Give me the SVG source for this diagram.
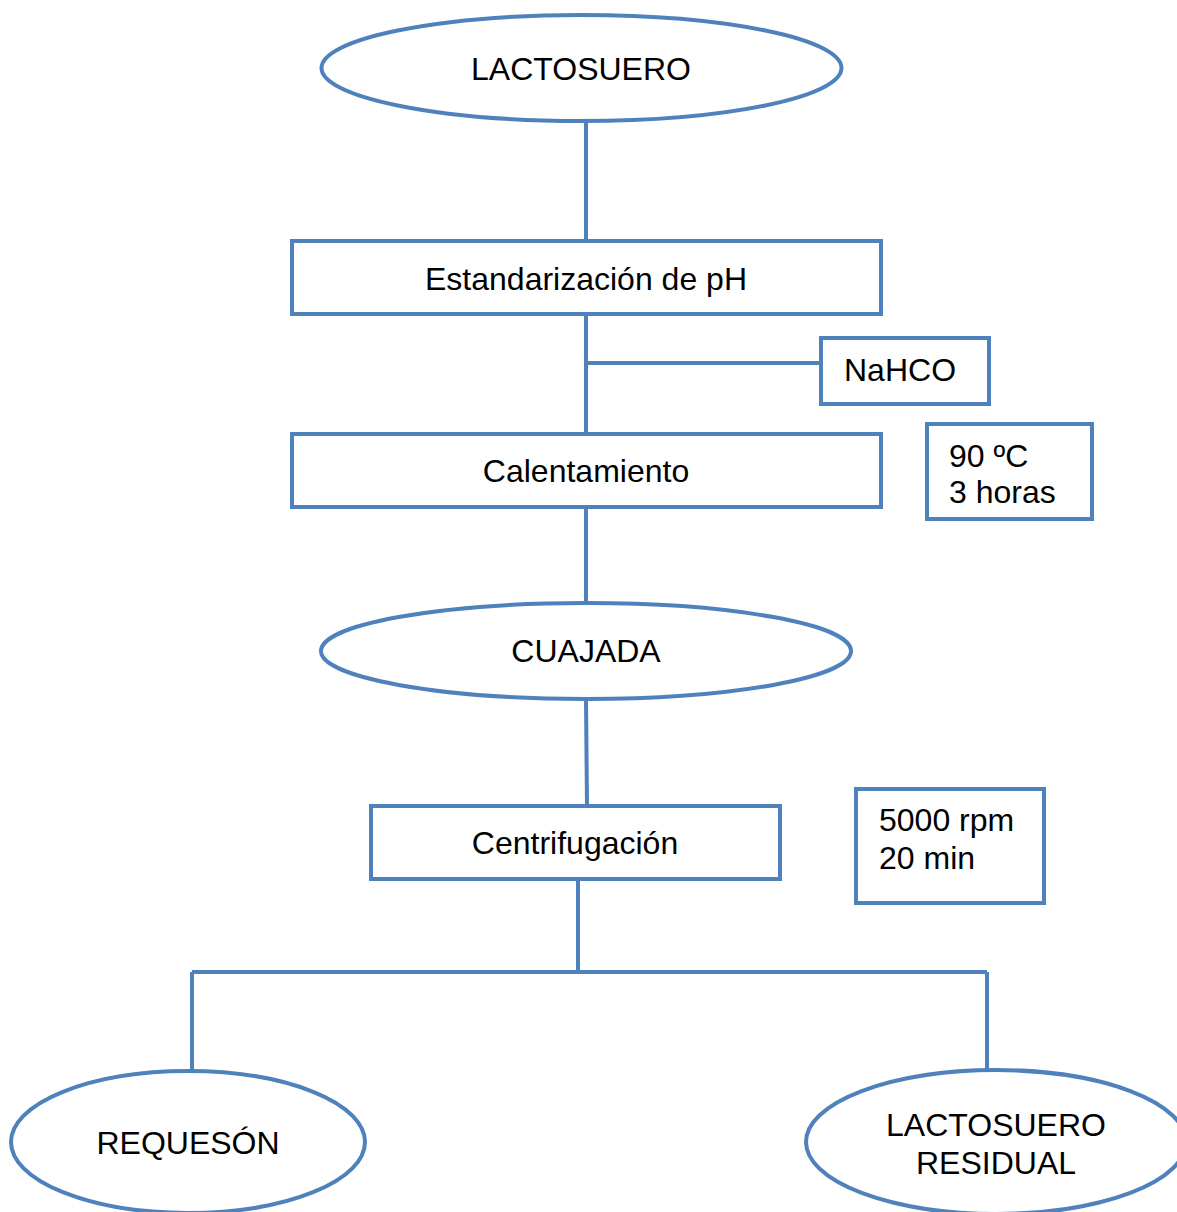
<svg xmlns="http://www.w3.org/2000/svg" width="1177" height="1212" viewBox="0 0 1177 1212">
<style>
.s{fill:#fff;stroke:#4f81bd;stroke-width:4}
.c{fill:none;stroke:#4f81bd;stroke-width:4}
text{font-family:"Liberation Sans",Arial,sans-serif;font-size:32px;fill:#000}
.m{text-anchor:middle}
</style>
<rect width="1177" height="1212" fill="#fff"/>
<g id="connectors">
<line class="c" x1="586" y1="122" x2="586" y2="241"/>
<line class="c" x1="586" y1="314" x2="586" y2="434"/>
<line class="c" x1="586" y1="363" x2="821" y2="363"/>
<line class="c" x1="586" y1="507" x2="586" y2="603"/>
<line class="c" x1="586" y1="699" x2="587" y2="806"/>
<line class="c" x1="578" y1="879" x2="578" y2="972"/>
<line class="c" x1="192" y1="972" x2="987" y2="972"/>
<line class="c" x1="192" y1="972" x2="192" y2="1072"/>
<line class="c" x1="987" y1="972" x2="987" y2="1070"/>
</g>
<g id="lactosuero">
<ellipse class="s" cx="581.5" cy="68" rx="260" ry="53"/>
<text class="m" x="581" y="80">LACTOSUERO</text>
</g>
<g id="estandarizacion">
<rect class="s" x="292" y="241" width="589" height="73"/>
<text class="m" x="586" y="290">Estandarización de pH</text>
</g>
<g id="nahco">
<rect class="s" x="821" y="338" width="168" height="66"/>
<text x="844" y="381">NaHCO</text>
</g>
<g id="calentamiento">
<rect class="s" x="292" y="434" width="589" height="73"/>
<text class="m" x="586" y="482">Calentamiento</text>
</g>
<g id="temp">
<rect class="s" x="927" y="424" width="165" height="95"/>
<text x="949" y="467">90 ºC</text>
<text x="949" y="503">3 horas</text>
</g>
<g id="cuajada">
<ellipse class="s" cx="586" cy="651" rx="265" ry="48"/>
<text class="m" x="586" y="662">CUAJADA</text>
</g>
<g id="centrifugacion">
<rect class="s" x="371" y="806" width="409" height="73"/>
<text class="m" x="575" y="854">Centrifugación</text>
</g>
<g id="rpm">
<rect class="s" x="856" y="789" width="188" height="114"/>
<text x="879" y="831">5000 rpm</text>
<text x="879" y="869">20 min</text>
</g>
<g id="requeson">
<ellipse class="s" cx="188" cy="1142" rx="177" ry="71"/>
<text class="m" x="188" y="1154">REQUESÓN</text>
</g>
<g id="residual">
<ellipse class="s" cx="996" cy="1142" rx="190" ry="72"/>
<text class="m" x="996" y="1136">LACTOSUERO</text>
<text class="m" x="996" y="1174">RESIDUAL</text>
</g>
</svg>
